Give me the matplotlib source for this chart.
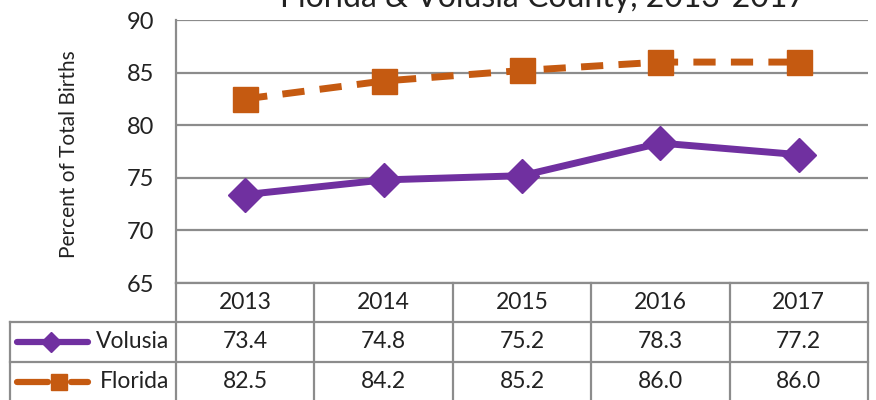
import matplotlib.pyplot as plt
from matplotlib.lines import Line2D

years = ['2013', '2014', '2015', '2016', '2017']
volusia = [73.4, 74.8, 75.2, 78.3, 77.2]
florida = [82.5, 84.2, 85.2, 86.0, 86.0]
yticks = [65, 70, 75, 80, 85, 90]
title = 'Florida & Volusia County, 2013-2017'

purple = '#7030A0'
orange = '#C55A11'
grid_c = '#8C8C8C'
txt_c = '#222222'

plt.rcParams['font.family'] = ['Lato', 'DejaVu Sans']

W, H = 876, 400
fig = plt.figure(figsize=(W / 100, H / 100), dpi=100)

# plot area in pixel coords
x0, x1 = 176, 868
y_top, y_bot = 20, 283
ax = fig.add_axes([x0 / W, 1 - y_bot / H, (x1 - x0) / W, (y_bot - y_top) / H])
xs = list(range(len(years)))
ax.plot(xs, volusia, color=purple, lw=5, marker='D', ms=17, zorder=3)
ax.plot(xs, florida, color=orange, lw=5, ls=(0, (3.2, 2.2)), marker='s', ms=18, zorder=3)
ax.set_xlim(-0.5, len(years) - 0.5)
ax.set_ylim(65, 90)
ax.set_yticks(yticks)
ax.set_xticks([])
for t in yticks:
    ax.axhline(t, color=grid_c, lw=1.6, zorder=1)
for s in ['top', 'right', 'bottom']:
    ax.spines[s].set_visible(False)
ax.spines['left'].set_color(grid_c)
ax.spines['left'].set_linewidth(1.6)
ax.tick_params(axis='y', length=0, labelsize=17, pad=16, colors=txt_c)
ax.set_ylabel('Percent of Total Births', fontsize=15, color=txt_c)
ax.yaxis.set_label_coords(-97 / (x1 - x0), 0.49)
ax.patch.set_alpha(0)

# data table below the plot, drawn in pixel space
tb = fig.add_axes([0, 0, 1, 1], zorder=-1)
tb.set_xlim(0, W)
tb.set_ylim(H, 0)
tb.axis('off')
col_w = (x1 - x0) / len(years)
rows = [283, 322, 362, 402]
lx = 10
kw = dict(color=grid_c, lw=1.6)
tb.plot([x0, x1], [rows[0], rows[0]], **kw)
for r in rows[1:]:
    tb.plot([lx, x1], [r, r], **kw)
tb.plot([lx, lx], [rows[1], rows[3]], **kw)
for i in range(len(years) + 1):
    xv = x0 + i * col_w
    tb.plot([xv, xv], [rows[0], rows[3]], **kw)

tfs = 16.5
for i, yr in enumerate(years):
    cx = x0 + (i + 0.5) * col_w
    tb.text(cx, (rows[0] + rows[1]) / 2, yr, ha='center', va='center', fontsize=tfs, color=txt_c)
    tb.text(cx, (rows[1] + rows[2]) / 2, f'{volusia[i]:.1f}', ha='center', va='center', fontsize=tfs, color=txt_c)
    tb.text(cx, (rows[2] + rows[3]) / 2, f'{florida[i]:.1f}', ha='center', va='center', fontsize=tfs, color=txt_c)

# legend keys in the table
ym = (rows[1] + rows[2]) / 2
tb.add_line(Line2D([17, 88], [ym, ym], color=purple, lw=4.5, solid_capstyle='round'))
tb.add_line(Line2D([51], [ym], color=purple, marker='D', ms=10))
tb.text(169, ym, 'Volusia', ha='right', va='center', fontsize=tfs, color=txt_c)
ym = (rows[2] + rows[3]) / 2
tb.add_line(Line2D([17, 48], [ym, ym], color=orange, lw=4.5, solid_capstyle='round'))
tb.add_line(Line2D([71, 88], [ym, ym], color=orange, lw=4.5, solid_capstyle='round'))
tb.add_line(Line2D([59], [ym], color=orange, marker='s', ms=11))
tb.text(169, ym, 'Florida', ha='right', va='center', fontsize=tfs, color=txt_c)

fig.text(543 / W, 1 - 7 / H, title, ha='center', va='baseline', fontsize=23, color=txt_c)

fig.savefig('out.png', dpi=100)
